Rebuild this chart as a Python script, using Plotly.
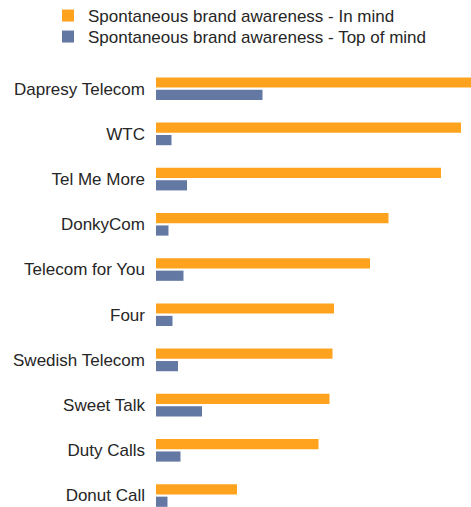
import plotly.graph_objects as go

categories = ["Dapresy Telecom", "WTC", "Tel Me More", "DonkyCom", "Telecom for You",
              "Four", "Swedish Telecom", "Sweet Talk", "Duty Calls", "Donut Call"]
in_mind = [66.0, 61.0, 57.0, 46.5, 42.8, 35.6, 35.3, 34.7, 32.5, 16.2]
top_of_mind = [21.3, 3.1, 6.2, 2.5, 5.5, 3.3, 4.4, 9.2, 4.9, 2.3]
series_names = ["Spontaneous brand awareness - In mind",
                "Spontaneous brand awareness - Top of mind"]

W, H = 471, 507
fig = go.Figure()
fig.add_trace(go.Bar(y=categories, x=in_mind, orientation="h", name=series_names[0],
                     marker=dict(color="#FFA31F", line=dict(width=0)), legend="legend"))
fig.add_trace(go.Bar(y=categories, x=top_of_mind, orientation="h", name=series_names[1],
                     marker=dict(color="#6478A4", line=dict(width=0)), legend="legend2"))

leg_common = dict(xref="container", yref="container", xanchor="left", yanchor="middle",
                  font=dict(size=17, color="#262626"), bgcolor="rgba(0,0,0,0)")

fig.update_layout(
    width=W, height=H,
    margin=dict(l=156, r=0, t=60, b=0, autoexpand=False),
    paper_bgcolor="white", plot_bgcolor="white",
    barmode="group", bargap=0.45, bargroupgap=0.18,
    font=dict(family="Liberation Sans, Arial, sans-serif", size=17, color="#262626"),
    showlegend=True,
    legend=dict(x=48 / W, y=1 - 16 / H, **leg_common),
    legend2=dict(x=48 / W, y=1 - 37 / H, **leg_common),
    xaxis=dict(range=[0, 63], showgrid=False, zeroline=False, showline=False,
               showticklabels=False, ticks="", automargin=False),
    yaxis=dict(type="category", categoryorder="array", categoryarray=categories,
               range=[9.254, -0.635], showgrid=False, zeroline=False, showline=False,
               ticks="", ticklabelstandoff=10, automargin=False,
               tickfont=dict(size=17, color="#262626")),
)

fig.write_html("out.html", config={"displayModeBar": False},
               post_script="document.body.style.margin='0px';document.body.style.overflow='hidden';")
